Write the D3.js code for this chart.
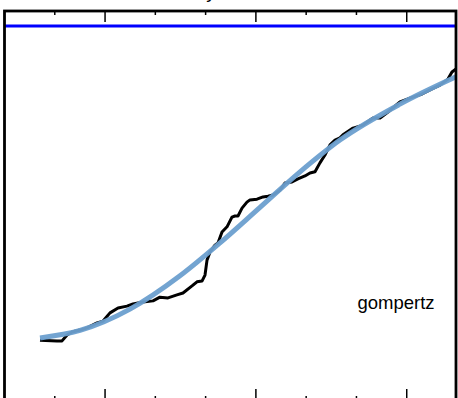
<!DOCTYPE html>
<html>
<head>
<meta charset="utf-8">
<script src="https://cdn.jsdelivr.net/npm/d3@7"></script>
<style>
  html, body { margin: 0; padding: 0; background: #fff; }
  svg { display: block; }
  text { font-family: "Liberation Sans", Arial, Helvetica, sans-serif; }
</style>
</head>
<body>
<svg id="chart" width="458" height="398"></svg>
<script>
// Observed series (time, value)
const obsX = [3.53, 5.22, 5.72, 6.22, 6.71, 7.51, 8.20, 9.20, 9.80, 10.49, 11.29, 12.18, 12.78, 13.77, 14.77,
  15.46, 16.26, 17.15, 17.75, 18.65, 19.14, 19.64, 19.94, 20.14, 20.44, 20.93, 21.23, 21.63, 22.13, 22.62,
  22.92, 23.22, 23.62, 24.11, 24.41, 25.11, 25.71, 26.20, 26.70, 27.40, 27.89, 28.59, 29.18, 29.88, 30.38,
  30.88, 31.37, 31.87, 32.37, 32.87, 33.36, 33.66, 34.66, 35.65, 36.65, 37.35, 38.14, 39.33, 40.32, 41.52,
  42.51, 43.31, 44.10, 44.50, 44.90];
const obsY = [16.0, 15.8, 15.8, 17.4, 18.2, 18.7, 19.3, 20.6, 21.1, 23.3, 24.6, 25.1, 25.7, 26.2, 26.5,
  27.5, 27.3, 28.1, 28.6, 30.5, 31.6, 31.8, 33.4, 37.4, 39.6, 41.4, 42.0, 44.9, 46.3, 48.9,
  49.2, 49.2, 51.3, 52.9, 53.5, 53.7, 54.3, 54.5, 54.8, 56.1, 58.0, 58.3, 59.1, 59.9, 60.7,
  61.0, 63.4, 65.5, 68.2, 69.5, 70.1, 70.9, 72.7, 73.5, 75.4, 75.4, 77.0, 79.7, 80.7, 81.8,
  83.2, 84.2, 85.8, 87.7, 88.5];

// Gompertz fit, sampled
const fitX = [3.53, 7.51, 12.48, 17.45, 21.43, 25.41, 29.39, 33.36, 39.33, 44.90];
const fitY = [16.6, 18.6, 24.3, 33.2, 42.0, 51.5, 61.0, 69.5, 79.1, 86.4];

// Reference level
const asymptote = 100;

// Axis ticks
const xTicks = [5, 10, 15, 20, 25, 30, 35, 40];
const xMajor = [10, 25, 40];
const fitLabel = "gompertz";
const titleText = "y";

const svg = d3.select("#chart");
const frameL = 4.5, frameR = 456, frameT = 11, frameB = 400;

const x = d3.scaleLinear().domain([0, 44.9]).range([frameL, frameR]);
const y = d3.scaleLinear().domain([0, 104]).range([frameB, frameT]);

svg.append("defs").append("clipPath").attr("id", "plot")
  .append("rect").attr("x", frameL).attr("y", frameT)
  .attr("width", frameR - frameL).attr("height", frameB - frameT);

const plot = svg.append("g").attr("clip-path", "url(#plot)");

// reference level line
plot.append("line")
  .attr("x1", x(0)).attr("x2", x(44.9))
  .attr("y1", y(asymptote)).attr("y2", y(asymptote))
  .attr("stroke", "#0000ff").attr("stroke-width", 3);

const obs = obsX.map((v, i) => [v, obsY[i]]);
const fit = fitX.map((v, i) => [v, fitY[i]]);

plot.append("path")
  .datum(obs)
  .attr("fill", "none")
  .attr("stroke", "#000")
  .attr("stroke-width", 3)
  .attr("stroke-linejoin", "round")
  .attr("d", d3.line().x(d => x(d[0])).y(d => y(d[1])));

plot.append("path")
  .datum(fit)
  .attr("fill", "none")
  .attr("stroke", "#6b9fcf")
  .attr("stroke-opacity", 0.95)
  .attr("stroke-width", 5)
  .attr("d", d3.line().x(d => x(d[0])).y(d => y(d[1])).curve(d3.curveMonotoneX));

// ticks on top and bottom edges, pointing inward
const major = new Set(xMajor);
const tickLen = t => major.has(t) ? 11 : 4;

svg.append("g").selectAll("line").data(xTicks).join("line")
  .attr("x1", d => x(d)).attr("x2", d => x(d))
  .attr("y1", frameT).attr("y2", d => frameT + tickLen(d))
  .attr("stroke", "#000").attr("stroke-width", 1.5);

svg.append("g").selectAll("line").data(xTicks).join("line")
  .attr("x1", d => x(d)).attr("x2", d => x(d))
  .attr("y1", frameB).attr("y2", d => frameB - tickLen(d))
  .attr("stroke", "#000").attr("stroke-width", 1.5);

// frame
svg.append("rect")
  .attr("x", frameL).attr("y", frameT)
  .attr("width", frameR - frameL).attr("height", frameB - frameT)
  .attr("fill", "none").attr("stroke", "#000").attr("stroke-width", 2.8);

// label
svg.append("text")
  .attr("x", x(35.1)).attr("y", 309)
  .attr("font-size", 18.5)
  .attr("fill", "#000")
  .text(fitLabel);

// title (mostly above the visible area)
svg.append("text")
  .attr("x", 211).attr("y", -2)
  .attr("text-anchor", "middle")
  .attr("font-size", 19)
  .text(titleText);
</script>
</body>
</html>
